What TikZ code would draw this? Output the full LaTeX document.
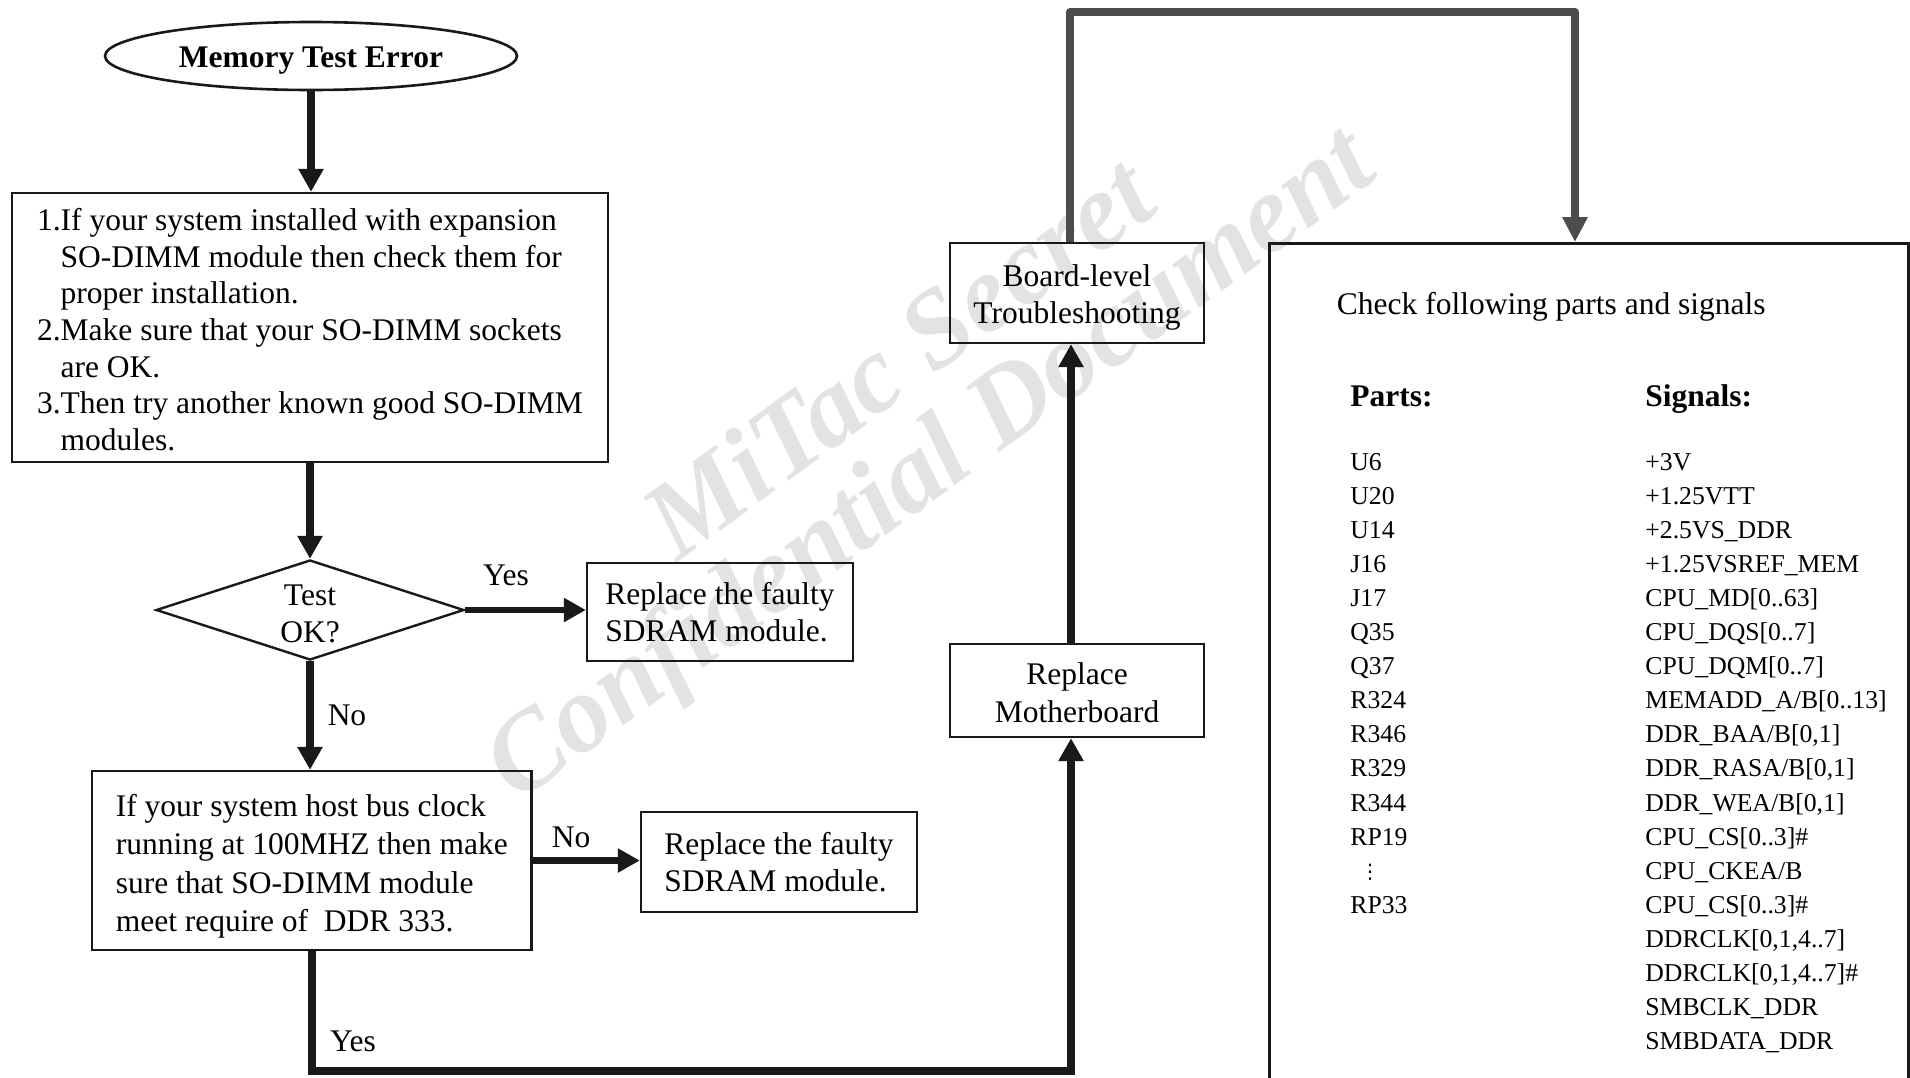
\documentclass[tikz,border=0pt]{standalone}
\usepackage{fontspec}
\setmainfont{Liberation Serif}
\newfontfamily\symfont{DejaVu Sans}
\usetikzlibrary{arrows.meta,shapes.geometric,calc}
\begin{document}
\begin{tikzpicture}[x=0.5pt,y=-0.5pt,
  every node/.style={font=\fontsize{15.75}{18.5}\selectfont},
  box/.style={draw=black!90, line width=1.2pt, rectangle, inner sep=0pt},
  varr/.style={draw=black!90, line width=4.2pt, -{Triangle[width=12pt,length=11.5pt]}},
  harr/.style={draw=black!90, line width=3.2pt, -{Triangle[width=11.5pt,length=11pt]}},
  garr/.style={draw=black!70, line width=4pt, line join=round, -{Triangle[width=12pt,length=12.5pt]}},
  lbl/.style={anchor=base, inner sep=0pt},
  wm/.style={text=black!11, inner sep=0pt, font=\fontsize{55}{62}\selectfont\bfseries\itshape},
  lst/.style={anchor=base west, inner sep=0pt, font=\fontsize{12.85}{15}\selectfont},
]
\useasboundingbox (0,0) rectangle (1910,1077);

% watermark
\node[wm, rotate=36] (wm1) at (897,356) {MiTac Secret};
\node[wm, rotate=36] (wm2) at (933,468) {Confidential Document};

% nodes
\node[draw=black!90, line width=1.3pt, ellipse, minimum width=206pt, minimum height=34pt, inner sep=0pt,
      font=\fontsize{15.75}{18.5}\selectfont\bfseries] (start) at (311,56) {\rule{0pt}{14.7pt}Memory Test Error};

\node[box, minimum width=298pt, minimum height=134.5pt, align=left,
      font=\fontsize{15.75}{18.3}\selectfont] (b1) at (310,327.5)
  {\rule{0pt}{13.3pt}1.If your system installed with expansion\\
   \phantom{1.}SO-DIMM module then check them for\\
   \phantom{1.}proper installation.\\
   2.Make sure that your SO-DIMM sockets\\
   \phantom{2.}are OK.\\
   3.Then try another known good SO-DIMM\\
   \phantom{3.}modules.};

\node[draw=black!90, line width=1.2pt, diamond, aspect=3.08, minimum width=154pt, minimum height=50pt,
      inner sep=0pt, align=center] (dia) at (310,610) {\rule{0pt}{14pt}Test\\OK?};

\node[box, minimum width=133pt, minimum height=49pt, align=left] (b2) at (720,612)
  {Replace the faulty\\SDRAM module.};

\node[box, minimum width=219.75pt, minimum height=89.5pt, align=left,
      font=\fontsize{15.75}{19.3}\selectfont] (b3) at (311.75,860.5)
  {\rule{0pt}{16.8pt}If your system host bus clock\\running at 100MHZ then make\\sure that SO-DIMM module\\meet require of\ \ DDR 333.};

\node[box, minimum width=138pt, minimum height=50pt, align=left] (b4) at (779,862)
  {Replace the faulty\\SDRAM module.};

\node[box, minimum width=127pt, minimum height=50pt, align=center] (bl) at (1077,293)
  {\rule{0pt}{15.8pt}Board-level\\Troubleshooting};

\node[box, minimum width=127pt, minimum height=46.5pt, align=center,
      font=\fontsize{15.75}{19.3}\selectfont] (rm) at (1077,690.5)
  {\rule{0pt}{13.3pt}Replace\\Motherboard};

\node[box, line width=1.3pt, anchor=north west, minimum width=319.5pt, minimum height=430pt] (chk) at (1268,242) {};

% right box text
\node[anchor=base west, inner sep=0pt] (chkt) at (1336.5,314) {Check following parts and signals};
\node[anchor=base west, inner sep=0pt, font=\fontsize{15.75}{18.5}\selectfont\bfseries] (ph) at (1350,406) {Parts:};
\node[anchor=base west, inner sep=0pt, font=\fontsize{15.75}{18.5}\selectfont\bfseries] (sh) at (1645,406) {Signals:};

\foreach \t [count=\i] in {U6,U20,U14,J16,J17,Q35,Q37,R324,R346,R329,R344,RP19}
  \node[lst] (p\i) at (1350,{470+34.1*(\i-1)}) {\t};
\node[anchor=base, inner sep=0pt, font=\fontsize{10}{12}\symfont] (pdots) at (1370,878) {⋮};
\node[lst] (p14) at (1350,{470+34.1*13}) {RP33};

\foreach \t [count=\i] in {{+3V},{+1.25VTT},{+2.5VS\_DDR},{+1.25VSREF\_MEM},{CPU\_MD[0..63]},
  {CPU\_DQS[0..7]},{CPU\_DQM[0..7]},{MEMADD\_A/B[0..13]},{DDR\_BAA/B[0,1]},{DDR\_RASA/B[0,1]},
  {DDR\_WEA/B[0,1]},{CPU\_CS[0..3]\#},{CPU\_CKEA/B},{CPU\_CS[0..3]\#},{DDRCLK[0,1,4..7]},
  {DDRCLK[0,1,4..7]\#},{SMBCLK\_DDR},{SMBDATA\_DDR}}
  \node[lst] (s\i) at (1645,{470+34.1*(\i-1)}) {\t};

% connectors
\draw[varr] (start.south) -- (start.south |- b1.north);
\draw[varr] (b1.south) -- (dia.north);
\draw[harr] (dia.east) -- (dia.east -| b2.west);
\draw[varr] (dia.south) -- (dia.south |- b3.north);
\draw[harr] (b3.east) -- (b3.east -| b4.west);
\coordinate (ybot) at (700,1071);
\draw[varr, line width=3.8pt, line join=miter] (b3.south) |- (ybot) -| ([xshift=-3pt]rm.south);
\draw[varr] ([xshift=-3pt]rm.north) -- ([xshift=-3pt]bl.south);
\coordinate (gtop) at (1575,12);
\draw[garr] ([xshift=-3.5pt]bl.north) |- (gtop) -- (gtop |- chk.north);

% labels
\node[lbl] (lyes1) at (506,585) {Yes};
\node[lbl] (lno1) at (347,725.5) {No};
\node[lbl] (lno2) at (571,847) {No};
\node[lbl] (lyes2) at (353,1051) {Yes};
\end{tikzpicture}
\end{document}
